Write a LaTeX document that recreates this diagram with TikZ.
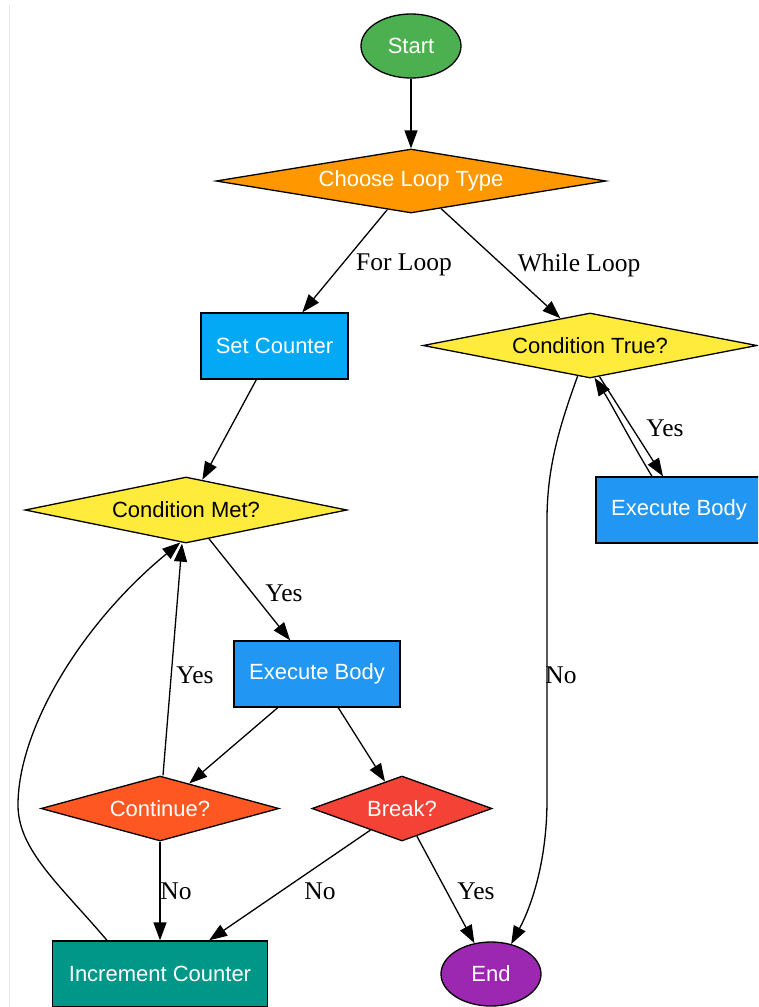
\documentclass[tikz,border=0pt]{standalone}
\usepackage{fontspec}
\setmainfont{Liberation Serif}
\newfontfamily\nodefont{Liberation Sans}
\usetikzlibrary{shapes.geometric,arrows.meta}
\definecolor{cstart}{HTML}{4CAF50}
\definecolor{cchoose}{HTML}{FF9800}
\definecolor{cset}{HTML}{03A9F4}
\definecolor{cyel}{HTML}{FFEB3B}
\definecolor{cexec}{HTML}{2196F3}
\definecolor{ccont}{HTML}{FF5722}
\definecolor{cbreak}{HTML}{F44336}
\definecolor{cinc}{HTML}{009688}
\definecolor{cend}{HTML}{9C27B0}
\definecolor{cedge}{HTML}{E6E6E6}
\tikzset{
  base/.style={draw=black,line width=1.3pt,inner sep=0pt,font=\nodefont\fontsize{22}{25}\selectfont},
  term/.style={base,ellipse,minimum width=100pt,minimum height=64pt,text=white},
  box/.style={base,rectangle,minimum width=147pt,minimum height=66pt,text=white},
  dia/.style={base,diamond,aspect=6},
  conn/.style={line width=1.3pt,-{Triangle[length=18pt,width=13pt]}},
  lbl/.style={font=\fontsize{25.5}{28}\selectfont,inner sep=0pt}
}
\begin{document}
\begin{tikzpicture}[x=1pt,y=-1pt]
\useasboundingbox (0,0) rectangle (758,1007);
\clip (0,0) rectangle (758,1007);
\fill[white] (0,0) rectangle (758,1007);
\draw[cedge,line width=1pt] (9,5) -- (9,1007);
% nodes
\node[term,fill=cstart] (start) at (411,46) {Start};
\node[dia,fill=cchoose,text=white,minimum width=390pt,minimum height=64pt] (choose) at (411,181) {Choose Loop Type};
\node[box,fill=cset] (setc) at (274.5,346) {Set Counter};
\node[dia,fill=cyel,minimum width=334pt,minimum height=65pt] (ctrue) at (590,345.5) {Condition True?};
\node[dia,fill=cyel,minimum width=322pt,minimum height=66pt] (cmet) at (186,510) {Condition Met?};
\node[box,fill=cexec,minimum width=166pt] (execr) at (679,510) {Execute Body};
\node[box,fill=cexec,minimum width=166pt] (execm) at (317,674) {Execute Body};
\node[dia,fill=ccont,text=white,minimum width=238pt,minimum height=65pt] (cont) at (160,808.5) {Continue?};
\node[dia,fill=cbreak,text=white,minimum width=180pt,minimum height=65pt] (brk) at (402,808.5) {Break?};
\node[box,fill=cinc,minimum width=215pt] (inc) at (160,974) {Increment Counter};
\node[term,fill=cend] (endn) at (491,974) {End};
% connectors
\draw[conn] (start) -- (choose);
\draw[conn] (choose) -- (setc);
\draw[conn] (choose) -- (ctrue);
\draw[conn] (setc) -- (cmet);
\draw[conn] (ctrue.-73) -- (execr.north -| 663,0);
\draw[conn] (execr.north -| 652,0) .. controls (630,440) and (612,405) .. (ctrue.-82);
\draw[conn] (ctrue.-112) .. controls (558,430) and (547,470) .. (547,520) -- (547,800) .. controls (547,860) and (532,905) .. (endn.56);
\draw[conn] (cmet) -- (execm);
\draw[conn] (execm) -- (cont);
\draw[conn] (execm) -- (brk);
\draw[conn] (cont.north -| 163,0) -- (cmet.south -| 182,0);
\draw[conn] (cont) -- (inc);
\draw[conn] (brk) -- (inc);
\draw[conn] (brk) -- (endn);
\draw[conn] (inc.north -| 107,0) .. controls (60,885) and (18,850) .. (18,805) .. controls (18,730) and (80,625) .. (cmet.-100);
% labels
\node[lbl] (l1) at (404,265) {For Loop};
\node[lbl] (l2) at (579,265) {While Loop};
\node[lbl] (l3) at (665,428) {Yes};
\node[lbl] (l4) at (284,593) {Yes};
\node[lbl] (l5) at (195,675) {Yes};
\node[lbl] (l6) at (561,675) {No};
\node[lbl] (l7) at (176,891) {No};
\node[lbl] (l8) at (320,891) {No};
\node[lbl] (l9) at (476,891) {Yes};
\end{tikzpicture}
\end{document}
